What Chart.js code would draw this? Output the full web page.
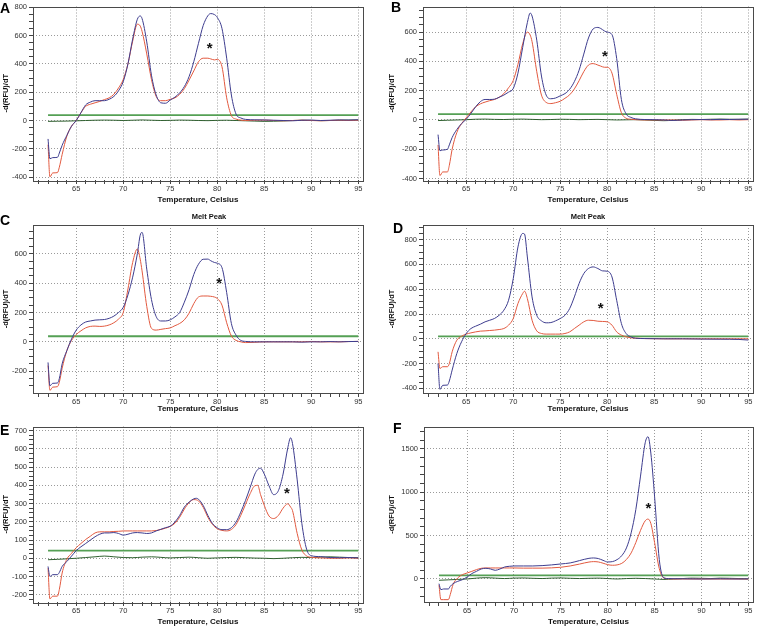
<!DOCTYPE html>
<html>
<head>
<meta charset="utf-8">
<title>Melt Peak</title>
<script src="https://cdn.jsdelivr.net/npm/chart.js@4.4.1/dist/chart.umd.min.js"></script>
<style>
  html, body { margin: 0; padding: 0; background: #fff; }
  #fig { position: relative; width: 763px; height: 627px; overflow: hidden; font-family: "Liberation Sans", Arial, sans-serif; }
  canvas { position: absolute; }
  .lbl { position: absolute; font-weight: bold; font-size: 14px; line-height: 14px; color: #000; }
  .ttl { position: absolute; font-weight: bold; font-size: 7.5px; line-height: 8px; color: #111; transform: translate(-50%, -50%); white-space: nowrap; }
</style>
</head>
<body>
<div id="fig">
  <canvas id="cA" width="372" height="210" style="left:0;top:0"></canvas>
  <canvas id="cB" width="383" height="210" style="left:380px;top:0"></canvas>
  <canvas id="cC" width="372" height="210" style="left:0;top:210px"></canvas>
  <canvas id="cD" width="383" height="210" style="left:380px;top:210px"></canvas>
  <canvas id="cE" width="372" height="207" style="left:0;top:420px"></canvas>
  <canvas id="cF" width="383" height="207" style="left:380px;top:420px"></canvas>
  <div class="lbl" style="left:0;top:1px">A</div>
  <div class="lbl" style="left:391px;top:0">B</div>
  <div class="lbl" style="left:0;top:213px">C</div>
  <div class="lbl" style="left:393px;top:221px">D</div>
  <div class="lbl" style="left:0;top:423px">E</div>
  <div class="lbl" style="left:393px;top:421px">F</div>
  <div class="ttl" style="left:209px;top:217px">Melt Peak</div>
  <div class="ttl" style="left:588px;top:217px">Melt Peak</div>
</div>
<script>
// valeurs (°C, -d(RFU)/dT)
const tempRange = [62, 95];
const tNoise = [62, 63, 64, 65, 66, 67, 68, 69, 70, 71, 72, 73, 74, 75, 76, 77, 78, 79, 80, 81, 82, 83, 84, 85, 86, 87, 88, 89, 90, 91, 92, 93, 94, 95];

// A
const tA = [62, 62.2, 62.5, 63, 63.2, 63.5, 64, 64.5, 65, 65.5, 66, 66.5, 67, 67.5, 68, 68.5, 69, 69.5, 70, 70.5, 71, 71.5, 71.8, 72, 72.5, 73, 73.5, 74, 74.5, 75, 75.5, 76, 76.5, 77, 77.5, 78, 78.5, 79, 79.3, 79.7, 80, 80.5, 81, 81.5, 82, 82.5, 83, 84, 85, 86, 87, 88, 89, 90, 91, 92, 93, 94, 95];
const blueA = [-130, -270, -262, -260, -230, -175, -105, -40, 0, 55, 110, 130, 140, 140, 140, 150, 170, 210, 275, 400, 575, 715, 738, 720, 555, 320, 180, 125, 122, 145, 165, 195, 240, 310, 415, 545, 670, 740, 755, 748, 728, 650, 440, 180, 45, 18, 8, 5, 4, 2, 0, -2, 2, 3, 0, 2, 4, 3, 5];
const redA = [-170, -398, -370, -368, -330, -240, -110, -40, 0, 55, 100, 115, 125, 135, 148, 160, 185, 230, 290, 400, 560, 680, 668, 630, 470, 290, 170, 140, 140, 150, 160, 185, 225, 285, 350, 415, 440, 440, 435, 428, 432, 380, 160, 35, 10, 3, 0, 2, 3, 0, -2, 0, 2, 0, -2, 0, 2, 0, 2];
const noiseA = [-6, -5, -4, -2, 0, 2, 3, 2, 0, 2, 4, 2, 0, 1, 3, 2, 0, -1, 1, 2, 0, -2, -4, -6, -5, -3, 0, 2, 1, -1, 0, 2, 3, 4];
const thrA = 38;

// B
const tB = [62, 62.2, 62.5, 63, 63.2, 63.5, 64, 64.5, 65, 65.5, 66, 66.5, 67, 67.5, 68, 68.5, 69, 69.5, 70, 70.5, 71, 71.5, 71.8, 72, 72.5, 73, 73.5, 74, 74.5, 75, 75.5, 76, 76.5, 77, 77.5, 78, 78.5, 79, 79.3, 79.7, 80, 80.5, 81, 81.5, 82, 82.5, 83, 84, 85, 86, 87, 88, 89, 90, 91, 92, 93, 94, 95];
const blueB = [-100, -210, -205, -200, -170, -120, -65, -25, 5, 45, 90, 125, 140, 140, 142, 155, 170, 190, 215, 320, 495, 665, 730, 710, 545, 300, 170, 145, 150, 165, 180, 210, 262, 340, 450, 560, 622, 632, 625, 608, 600, 583, 420, 140, 42, 18, 8, 3, 2, 0, -3, 0, 2, 3, 2, 4, 3, 5, 5];
const redB = [-170, -380, -355, -355, -310, -200, -85, -25, 15, 55, 90, 110, 122, 132, 140, 155, 180, 220, 270, 380, 520, 600, 580, 535, 330, 170, 120, 112, 118, 128, 148, 172, 212, 268, 330, 375, 385, 375, 368, 360, 360, 320, 175, 50, 12, 5, 2, 0, 0, 0, 0, -2, 0, 2, 0, 0, 2, 0, 2];
const noiseB = [-4, -2, 0, 2, 5, 6, 4, 3, 5, 6, 4, 2, 3, 5, 4, 2, 3, 4, 2, 0, 1, 2, 0, -3, -5, -2, 2, 4, 3, 5, 6, 5, 4, 6];
const thrB = 40;

// C
const tC = [62, 62.2, 62.5, 63, 63.2, 63.5, 64, 64.5, 65, 65.5, 66, 66.5, 67, 67.5, 68, 68.5, 69, 69.5, 70, 70.5, 71, 71.5, 71.8, 72, 72.5, 73, 73.5, 74, 74.5, 75, 75.5, 76, 76.5, 77, 77.5, 78, 78.5, 79, 79.3, 79.7, 80, 80.5, 81, 81.5, 82, 82.5, 83, 84, 85, 86, 87, 88, 89, 90, 91, 92, 93, 94, 95];
const blueC = [-140, -299, -282, -280, -250, -150, -60, 20, 80, 115, 135, 142, 148, 150, 152, 160, 175, 200, 235, 320, 440, 600, 725, 745, 495, 288, 172, 142, 142, 150, 170, 200, 270, 355, 458, 528, 562, 563, 552, 540, 535, 505, 335, 125, 45, 10, 3, 0, 0, 0, 0, 0, -2, 0, 0, 2, 0, 2, 3];
const redC = [-160, -330, -308, -305, -275, -180, -60, 10, 50, 75, 95, 105, 107, 105, 107, 115, 130, 155, 200, 360, 540, 632, 563, 483, 241, 92, 80, 85, 90, 95, 110, 125, 150, 195, 260, 305, 312, 312, 310, 305, 295, 250, 130, 40, 10, 0, -5, -3, 0, 0, 0, 0, 0, 2, 0, 0, 0, 2, 3];
const thrC = 38;

// D
const tD = [62, 62.2, 62.5, 63, 63.2, 63.5, 64, 64.5, 65, 65.5, 66, 66.5, 67, 67.5, 68, 68.5, 69, 69.5, 70, 70.5, 71, 71.2, 71.5, 72, 72.5, 73, 73.5, 74, 74.5, 75, 75.5, 76, 76.5, 77, 77.5, 78, 78.5, 79, 79.5, 80, 80.5, 81, 81.5, 82, 82.5, 83, 84, 86, 88, 90, 92, 94, 95];
const blueD = [-199, -408, -375, -373, -340, -252, -118, -24, 43, 83, 102, 118, 137, 150, 164, 190, 231, 311, 486, 741, 850, 845, 660, 338, 190, 145, 129, 131, 145, 164, 190, 244, 338, 446, 526, 567, 580, 567, 548, 545, 499, 311, 124, 43, 16, 5, 2, 0, 0, -2, -3, -5, -10];
const redD = [-105, -239, -225, -225, -200, -105, -11, 21, 38, 48, 56, 62, 64, 67, 70, 75, 83, 110, 164, 285, 365, 384, 325, 150, 64, 43, 38, 38, 38, 38, 43, 56, 83, 110, 137, 150, 148, 142, 140, 137, 110, 56, 30, 16, 8, 5, 2, 0, 0, 0, 0, 0, 0];
const thrD = 20;

// E
const tE = [62, 62.2, 62.5, 63, 63.2, 63.5, 64, 64.5, 65, 65.5, 66, 66.5, 67, 67.5, 68, 68.5, 69, 69.5, 70, 70.5, 71, 71.5, 72, 72.5, 73, 73.5, 74, 74.5, 75, 75.5, 76, 76.5, 77, 77.5, 77.8, 78, 78.5, 79, 79.5, 80, 80.5, 81, 81.5, 82, 82.5, 83, 83.5, 84, 84.3, 84.6, 85, 85.5, 86, 86.5, 87, 87.5, 87.8, 88, 88.5, 89, 89.5, 90, 91, 92, 93, 94, 95];
const blueE = [-45, -100, -90, -90, -78, -45, -18, 12, 42, 63, 81, 100, 118, 132, 139, 139, 141, 136, 127, 132, 139, 141, 139, 136, 139, 150, 159, 168, 176, 199, 235, 281, 308, 326, 329, 324, 290, 235, 190, 167, 157, 157, 168, 199, 253, 317, 389, 462, 487, 494, 462, 398, 349, 371, 462, 606, 661, 630, 430, 190, 50, 14, 9, 4, 3, 4, 2];
const redE = [-55, -223, -208, -208, -172, -81, -5, 27, 58, 81, 103, 121, 139, 145, 145, 145, 147, 148, 150, 150, 150, 150, 150, 150, 150, 152, 158, 165, 175, 192, 225, 270, 305, 322, 320, 315, 280, 225, 185, 162, 153, 150, 158, 185, 235, 295, 355, 398, 400, 350, 290, 232, 218, 235, 275, 299, 281, 262, 136, 45, 13, 5, 2, 0, 0, 2, 0];
const noiseE = [-8, -6, -3, 0, 4, 8, 12, 8, 4, 3, 6, 8, 5, 2, 4, 6, 3, 0, 2, 4, 5, 3, 1, 0, -2, 0, 3, 5, 4, 6, 8, 6, 4, 3];
const thrE = 42;

// F
const tF = [62, 62.2, 62.5, 63, 63.2, 63.5, 64, 64.5, 65, 65.5, 66, 66.5, 67, 67.5, 68, 68.5, 69, 69.5, 70, 71, 72, 73, 74, 75, 76, 77, 78, 78.5, 79, 79.5, 80, 80.5, 81, 81.5, 82, 82.5, 83, 83.5, 84, 84.3, 84.6, 85, 85.5, 86, 86.5, 87, 88, 90, 92, 94, 95];
const blueF = [-54, -123, -115, -115, -85, -54, -27, -8, 23, 62, 88, 115, 123, 115, 100, 115, 138, 146, 150, 150, 150, 154, 162, 173, 185, 212, 238, 242, 235, 215, 196, 200, 223, 269, 358, 531, 800, 1185, 1569, 1638, 1450, 950, 225, 12, 5, 3, 2, 0, 2, 0, 2];
const redF = [-70, -238, -238, -238, -180, -65, 12, 50, 69, 88, 108, 123, 127, 127, 127, 127, 127, 127, 127, 125, 125, 125, 128, 135, 150, 172, 195, 200, 196, 182, 165, 158, 162, 180, 225, 300, 420, 560, 670, 690, 640, 420, 120, 10, 2, 0, 0, 0, 0, 0, 0];
const noiseF = [-15, -10, -5, 0, 10, 15, 10, 5, 10, 12, 8, 5, 10, 12, 8, 5, 8, 10, 5, 0, 5, 8, 5, 0, -5, 0, 5, 10, 8, 5, 10, 8, 5, 0];
const thrF = 42;

// couleurs
const BLUE = "#3d3c8e";
const RED = "#e2593f";
const THR = "#55a055";
const NOISE = "#2f5f2f";
const GRID = "#9a9a9a";

Chart.defaults.font.family = '"Liberation Sans", Arial, sans-serif';

const pts = (xs, ys) => xs.map((x, i) => ({ x: x, y: ys[i] }));

const framePlugin = {
  id: "frame",
  afterDatasetsDraw(chart) {
    const { ctx, chartArea: a } = chart;
    ctx.save();
    ctx.strokeStyle = "#4a4a4a";
    ctx.lineWidth = 1;
    ctx.strokeRect(Math.round(a.left) + 0.5, Math.round(a.top) + 0.5, Math.round(a.right - a.left), Math.round(a.bottom - a.top));
    ctx.restore();
  },
};

const starPlugin = {
  id: "star",
  afterDatasetsDraw(chart, args, opts) {
    if (opts.x == null) return;
    const { ctx } = chart;
    const x = chart.scales.x.getPixelForValue(opts.x);
    const y = chart.scales.y.getPixelForValue(opts.y);
    ctx.save();
    ctx.font = 'bold 15px "Liberation Sans", Arial, sans-serif';
    ctx.fillStyle = "#111";
    ctx.textAlign = "center";
    ctx.textBaseline = "middle";
    ctx.fillText("*", x, y + 3);
    ctx.restore();
  },
};

function makePanel(p) {
  const datasets = [
    { data: pts(p.t, p.blue), borderColor: BLUE, borderWidth: 1 },
    { data: pts(p.t, p.red), borderColor: RED, borderWidth: 1 },
    { data: pts(tempRange, [p.thr, p.thr]), borderColor: THR, borderWidth: 1.8 },
  ];
  if (p.noise) datasets.push({ data: pts(tNoise, p.noise), borderColor: NOISE, borderWidth: 1 });
  datasets.forEach((d) => {
    d.pointRadius = 0;
    d.fill = false;
    d.cubicInterpolationMode = "monotone";
  });

  new Chart(document.getElementById(p.id), {
    type: "line",
    data: { datasets: datasets },
    options: {
      responsive: false,
      devicePixelRatio: 1,
      animation: false,
      events: [],
      layout: { padding: { left: 0, top: p.padTop, right: p.padRight, bottom: 0 } },
      plugins: { legend: { display: false }, tooltip: { enabled: false }, star: p.star },
      scales: {
        x: {
          type: "linear",
          min: 60.4,
          max: 95.5,
          afterFit: (s) => { s.height = p.xh; },
          ticks: {
            stepSize: 1,
            autoSkip: false,
            maxRotation: 0,
            includeBounds: false,
            padding: 0,
            color: "#333",
            font: { size: 7.5 },
            callback: (v) => (v % 5 === 0 ? String(v) : ""),
          },
          grid: {
            color: (c) => (c.tick && c.tick.value % 5 === 0 ? GRID : "transparent"),
            tickColor: "#444",
            tickLength: 4,
            lineWidth: 1,
          },
          border: { display: false, dash: [1, 2] },
          title: {
            display: true,
            text: "Temperature, Celsius",
            color: "#111",
            font: { size: 8, weight: "bold" },
            padding: { top: 0, bottom: p.xtp },
          },
        },
        y: {
          min: p.ymin,
          max: p.ymax,
          afterFit: (s) => { s.width = p.yw; },
          ticks: {
            stepSize: p.minor,
            autoSkip: false,
            includeBounds: false,
            padding: 2,
            color: "#333",
            font: { size: 7.5 },
            callback: (v) => (v % p.major === 0 ? String(v) : ""),
          },
          grid: {
            color: (c) => (c.tick && c.tick.value % p.major === 0 ? GRID : "transparent"),
            tickColor: "#444",
            tickLength: 4,
            lineWidth: 1,
          },
          border: { display: false, dash: [1, 2] },
          title: {
            display: true,
            text: "-d(RFU)/dT",
            color: "#111",
            font: { size: 7.5, weight: "bold" },
            padding: { top: p.ytp, bottom: 0 },
          },
        },
      },
    },
    plugins: [framePlugin, starPlugin],
  });
}

// bornes choisies pour que (max - min) / pas ne tombe pas sur un entier
const panels = [
  { id: "cA", t: tA, blue: blueA, red: redA, noise: noiseA, thr: thrA, ymin: -420, ymax: 805, minor: 50, major: 200,
    star: { x: 79.2, y: 530 }, padTop: 5, padRight: 9, yw: 33, xh: 30, xtp: 5, ytp: 1 },
  { id: "cB", t: tB, blue: blueB, red: redB, noise: noiseB, thr: thrB, ymin: -410, ymax: 775, minor: 50, major: 200,
    star: { x: 79.75, y: 453 }, padTop: 5, padRight: 10, yw: 43, xh: 30, xtp: 5, ytp: 7 },
  { id: "cC", t: tC, blue: blueC, red: redC, noise: null, thr: thrC, ymin: -348, ymax: 795, minor: 50, major: 200,
    star: { x: 80.2, y: 415 }, padTop: 15, padRight: 9, yw: 33, xh: 27, xtp: 6, ytp: 1 },
  { id: "cD", t: tD, blue: blueD, red: redD, noise: null, thr: thrD, ymin: -437, ymax: 918, minor: 50, major: 200,
    star: { x: 79.3, y: 264 }, padTop: 15, padRight: 10, yw: 43, xh: 27, xtp: 6, ytp: 7 },
  { id: "cE", t: tE, blue: blueE, red: redE, noise: noiseE, thr: thrE, ymin: -240, ymax: 723, minor: 25, major: 100,
    star: { x: 87.4, y: 371 }, padTop: 5, padRight: 9, yw: 33, xh: 25, xtp: 0, ytp: 1 },
  { id: "cF", t: tF, blue: blueF, red: redF, noise: noiseF, thr: thrF, ymin: -265, ymax: 1750, minor: 100, major: 500,
    star: { x: 84.35, y: 838 }, padTop: 7, padRight: 10, yw: 44, xh: 25, xtp: 0, ytp: 7 },
];

panels.forEach(makePanel);
</script>
</body>
</html>
